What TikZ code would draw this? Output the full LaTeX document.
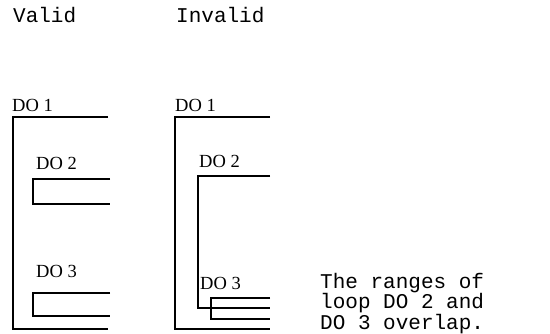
\documentclass[tikz,border=0pt]{standalone}
\usepackage{fontspec}
\newfontfamily\monofont{Liberation Mono}
\newfontfamily\seriffont{Liberation Serif}
\begin{document}
\begin{tikzpicture}[x=1pt,y=-1pt,
  mono/.style={font=\monofont\fontsize{21}{16}\selectfont,inner sep=0pt,anchor=base west},
  dolabel/.style={font=\seriffont\fontsize{18.5}{18.5}\selectfont,inner sep=0pt,anchor=base west},
  brk/.style={line width=1.4pt,line join=miter}]
\useasboundingbox (0,0) rectangle (550,333);
% headings
\node[mono] (valid) at (13,22) {Valid};
\node[mono] (invalid) at (176,22) {Invalid};
% valid
\node[dolabel] (v1) at (12,111) {DO 1};
\draw[brk] (108,117) -- (13,117) -- (13,329) -- (108,329);
\node[dolabel] (v2) at (36,169) {DO 2};
\draw[brk] (110,179) -- (33,179) -- (33,204) -- (110,204);
\node[dolabel] (v3) at (36,277) {DO 3};
\draw[brk] (110,293) -- (33,293) -- (33,316) -- (110,316);
% invalid
\node[dolabel] (i1) at (175,111) {DO 1};
\draw[brk] (270,117) -- (175,117) -- (175,329) -- (270,329);
\node[dolabel] (i2) at (199,167) {DO 2};
\draw[brk] (270,176) -- (198,176) -- (198,308) -- (270,308);
\node[dolabel] (i3) at (200,289) {DO 3};
\draw[brk] (270,298) -- (211,298) -- (211,319) -- (270,319);
% note
\node[mono,align=left,anchor=north west] (note) at (320,273) {The ranges of\\loop DO 2 and\\DO 3 overlap.};
\end{tikzpicture}
\end{document}
